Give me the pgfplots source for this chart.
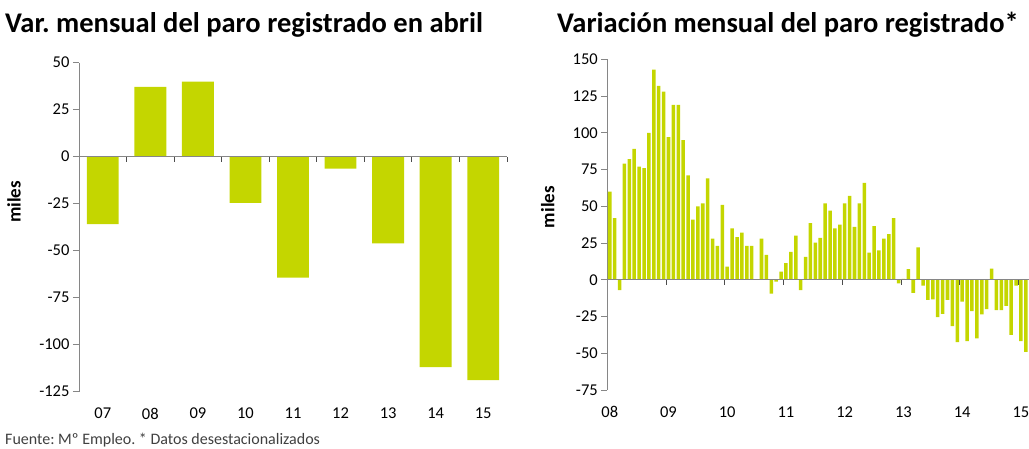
\documentclass[border=0pt]{standalone}
\usepackage{fontspec}
\setmainfont{Carlito}
\usepackage{pgfplots}
\pgfplotsset{compat=1.18}
\usepackage{pgfplotstable}
\frenchspacing

\definecolor{barclr}{HTML}{C4D600}
\definecolor{axclr}{HTML}{868686}
\definecolor{noteclr}{HTML}{404040}

% Abril de cada ano (miles)
\pgfplotstableread{
x y
1 -35.9
2 37.2
3 39.9
4 -24.5
5 -64.3
6 -6.4
7 -46.1
8 -111.9
9 -118.9
}\abril

% Variacion mensual desestacionalizada, ene-2008 a feb-2015
\pgfplotstableread{
x y
1 60
2 42
3 -7
4 79
5 82
6 89
7 77
8 76
9 100
10 143
11 132
12 128
13 97
14 119
15 119
16 95
17 71
18 41
19 50
20 52
21 69
22 28
23 23
24 51
25 9
26 35
27 29
28 32
29 23
30 23
31 0
32 28
33 17
34 -9.5
35 -1.2
36 5.5
37 11.4
38 19
39 30
40 -7
41 15.5
42 38.5
43 25.3
44 28.5
45 52
46 47
47 35
48 37.5
49 52
50 57
51 36
52 52
53 66
54 18.5
55 36.5
56 20
57 28
58 31
59 42
60 -2.5
61 0.6
62 7.3
63 -9
64 22
65 -4
66 -13.6
67 -13.4
68 -25.5
69 -23.2
70 -13.6
71 -31.6
72 -42.5
73 -14.8
74 -41.8
75 -21.4
76 -39.8
77 -23.6
78 -20
79 7.5
80 -20.7
81 -20.7
82 -17.7
83 -37.5
84 -4
85 -41.8
86 -49
}\mensual

\pgfplotsset{
  base/.style={
    scale only axis,
    anchor=south west,
    axis y line*=left,
    axis x line*=bottom,
    x axis line style={draw=none},
    y axis line style={draw=axclr, line width=0.8pt},
    major x tick style={draw=none},
    major y tick style={draw=axclr, line width=0.8pt},
    tick align=outside,
    major tick length=6pt,
    /pgf/number format/assume math mode=true,
    ticklabel style={font=\fontsize{16.5}{18}\selectfont, text=black},
    xticklabel style={yshift=-7pt},
    ylabel={miles},
    ylabel style={font=\fontsize{19}{21}\selectfont\bfseries, anchor=center},
    clip=false,
  },
  zeroline/.style={
    scale only axis,
    anchor=south west,
    axis x line=middle,
    axis y line=none,
    axis line style={-, draw=axclr, line width=1.2pt},
    xticklabels={},
    ytick=\empty,
    tick align=outside,
    major tick length=5pt,
    major x tick style={draw=black!70, line width=0.8pt},
  },
}

\begin{document}
\begin{tikzpicture}
\useasboundingbox (0pt,0pt) rectangle (1029pt,448pt);

\node[anchor=base west, inner sep=0pt, font=\fontsize{28.5}{32}\selectfont\bfseries] at (5pt,415pt) {Var. mensual del paro registrado en abril};
\node[anchor=base west, inner sep=0pt, font=\fontsize{28.5}{32}\selectfont\bfseries] at (557pt,415pt) {Variación mensual del paro registrado*};
\node[anchor=base west, inner sep=0pt, text=noteclr, font=\fontsize{16}{18}\selectfont] at (5pt,3.5pt) {Fuente: Mº Empleo. * Datos desestacionalizados};

% Izquierda
\begin{axis}[base,
  at={(79pt,56.3pt)}, width=428pt, height=329pt,
  xmin=0.5, xmax=9.5, ymin=-125, ymax=50,
  xtick={1,...,9}, xticklabels={07,08,09,10,11,12,13,14,15},
  ytick={-125,-100,...,50},
  ylabel style={at={(axis description cs:-0.152,0.577)}},
]
\addplot[ybar, bar width=0.67, fill=barclr, draw=none] table[x=x, y=y] {\abril};
\end{axis}
\begin{axis}[zeroline,
  at={(79pt,56.3pt)}, width=428pt, height=329pt,
  xmin=0.5, xmax=9.5, ymin=-125, ymax=50,
  xtick={1.5,2.5,...,9.5},
]
\addplot[draw=none] coordinates {(1,0)};
\end{axis}

% Derecha
\begin{axis}[base,
  at={(607.3pt,58pt)}, width=421.7pt, height=330.7pt,
  xmin=0.5, xmax=86.65, ymin=-75, ymax=150,
  xtick={1,13,...,85}, xticklabels={08,09,10,11,12,13,14,15},
  ytick={-75,-50,...,150},
  ylabel style={at={(axis description cs:-0.141,0.553)}},
]
\addplot[ybar, bar width=0.72, fill=barclr, draw=none] table[x=x, y=y] {\mensual};
\end{axis}
\begin{axis}[zeroline,
  at={(607.3pt,58pt)}, width=421.7pt, height=330.7pt,
  xmin=0.5, xmax=86.65, ymin=-75, ymax=150,
  xtick={12.5,24.5,...,84.5},
]
\addplot[draw=none] coordinates {(1,0)};
\end{axis}
\end{tikzpicture}
\end{document}
